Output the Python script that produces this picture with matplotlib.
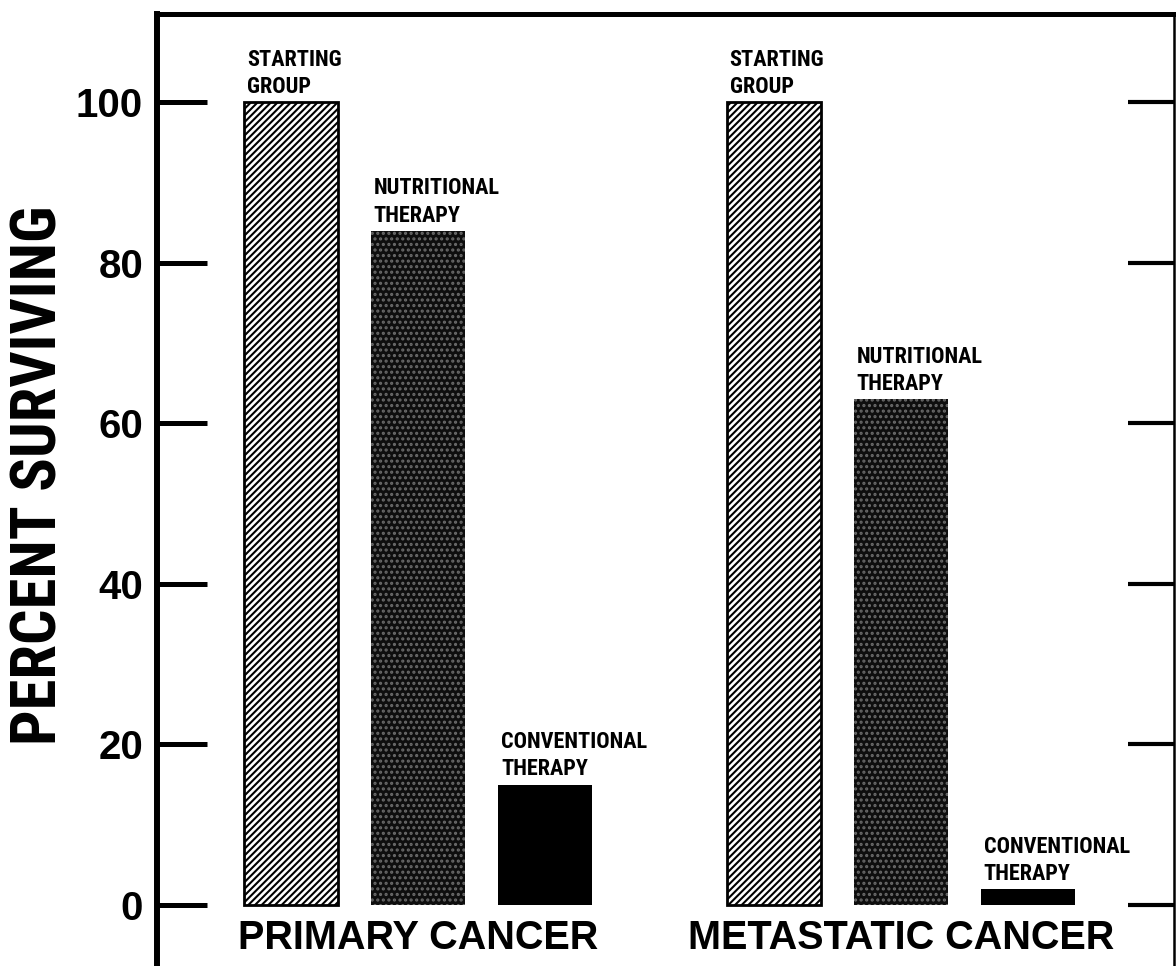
import matplotlib
matplotlib.use("Agg")
import matplotlib.pyplot as plt
from matplotlib import font_manager

# values
groups = ["PRIMARY CANCER", "METASTATIC CANCER"]
treatments = ["STARTING\nGROUP", "NUTRITIONAL\nTHERAPY", "CONVENTIONAL\nTHERAPY"]
primary = [100, 84, 15]
metastatic = [100, 63, 2]
yticks = [0, 20, 40, 60, 80, 100]


def pick(names):
    avail = {f.name for f in font_manager.fontManager.ttflist}
    for n in names:
        if n in avail:
            return n
    return "DejaVu Sans"


narrow = pick(["Liberation Sans Narrow", "Roboto Condensed", "Open Sans Condensed",
               "DejaVu Sans Condensed", "DejaVu Sans"])
wide = pick(["Liberation Sans", "DejaVu Sans"])

plt.rcParams["hatch.linewidth"] = 1.5

fig = plt.figure(figsize=(11.76, 9.66), dpi=100)
ax = fig.add_axes([0.1335, 0.0, 0.8648, 0.9855])

offsets = [0, 1, 2]
starts = [0, 3.8]
width = 0.74
styles = [
    dict(facecolor="white", edgecolor="black", hatch="/////", linewidth=2),
    dict(facecolor="#0e0e0e", edgecolor="#6a6a6a", hatch="...", linewidth=0),
    dict(facecolor="black", edgecolor="black", linewidth=0),
]

for g, vals in enumerate([primary, metastatic]):
    xs = [starts[g] + o for o in offsets]
    for i, (x, v) in enumerate(zip(xs, vals)):
        ax.bar(x, v, width=width, **styles[i])
        ax.annotate(treatments[i], xy=(x - width / 2, v), xytext=(2, 3),
                    textcoords="offset points", ha="left", va="bottom",
                    family=narrow, fontstretch="condensed", fontweight="bold",
                    fontsize=16, linespacing=1.3)
    ax.text(sum(xs) / len(xs), -4.1, groups[g], ha="center", va="center",
            family=wide, fontweight="bold", fontsize=28.5)

ax.set_xlim(-1.055, 6.95)
ax.set_ylim(-7.6, 111)
ax.set_xticks([])
ax.set_yticks(yticks)
ax.set_yticklabels([str(t) for t in yticks], family=wide, fontweight="bold",
                   fontsize=29)
ax.tick_params(axis="y", direction="in", length=36, width=3.6, pad=10,
               right=True)
for t in ax.yaxis.get_major_ticks():
    t.tick2line.set_markersize(33)
    t.tick2line.set_markeredgewidth(3)

ax.spines["bottom"].set_visible(False)
ax.spines["left"].set_linewidth(4.3)
ax.spines["top"].set_linewidth(3.6)
ax.spines["right"].set_linewidth(1.8)

fig.text(40 / 1176, 1 - 475 / 966, "PERCENT SURVIVING", rotation=90,
         ha="center", va="center", family=narrow, fontstretch="condensed",
         fontweight="bold", fontsize=45)

fig.savefig("out.png", dpi=100)
